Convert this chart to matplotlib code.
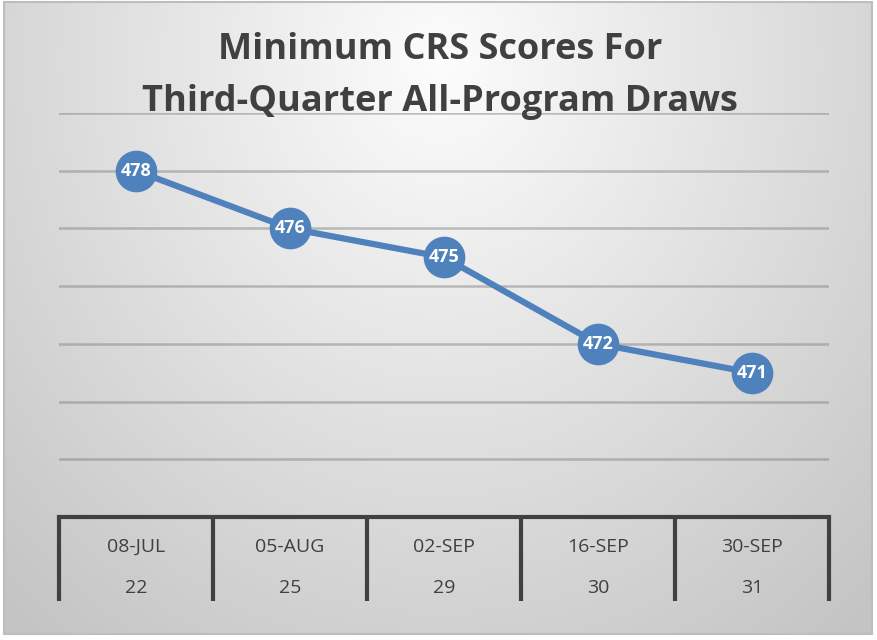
import numpy as np
import matplotlib.pyplot as plt
from matplotlib.patches import Rectangle

dates = ['08-JUL', '05-AUG', '02-SEP', '16-SEP', '30-SEP']
days = ['22', '25', '29', '30', '31']
scores = [478, 476, 475, 472, 471]

plt.rcParams['font.family'] = ['Open Sans', 'DejaVu Sans']

W, H = 877, 640
fig = plt.figure(figsize=(W / 100, H / 100), dpi=100)

# radial gradient background inside a thin grey frame
bg = fig.add_axes([0, 0, 1, 1], zorder=-2)
bg.set_xlim(0, W)
bg.set_ylim(H, 0)
bg.axis('off')
yy, xx = np.mgrid[0:H, 0:W]
r = np.sqrt(((xx - 440) / 560.0) ** 2 + ((yy - 60) / 640.0) ** 2)
shade = np.clip(0.99 - 0.19 * r, 0.77, 1.0)
img = np.dstack([shade, shade, shade])
bg.imshow(img, extent=(4, 872, 634, 2), aspect='auto', interpolation='bilinear')
bg.add_patch(Rectangle((4, 2), 868, 632, fill=False, edgecolor='#bdbdbd', lw=1.5))

ax = fig.add_axes([59 / W, 123 / H, 770 / W, 404 / H])
ax.patch.set_alpha(0)
x = np.arange(len(scores))
ax.plot(x, scores, color='#4f81bd', lw=4.5, marker='o', ms=29,
        markerfacecolor='#4f81bd', markeredgecolor='#4f81bd', zorder=3)
for xi, s in zip(x, scores):
    ax.text(xi, s, str(s), ha='center', va='center', color='white',
            fontsize=13, fontweight='bold', zorder=4)

ax.set_xlim(-0.5, len(scores) - 0.5)
ax.set_ylim(466, 480)
ax.set_yticks(np.arange(468, 481, 2))
ax.yaxis.grid(True, color='#7a7a7a', alpha=0.45, lw=1.8)
ax.set_axisbelow(True)
ax.tick_params(left=False, labelleft=False, bottom=False, labelbottom=False)
for sp in ['top', 'left', 'right']:
    ax.spines[sp].set_visible(False)
ax.spines['bottom'].set_color('#404040')
ax.spines['bottom'].set_linewidth(3)

# two-level category labels with separators
trans = ax.get_xaxis_transform()
ax.vlines(np.arange(-0.5, len(scores)), -84 / 404, 0, transform=trans,
          colors='#404040', lw=3, clip_on=False)
for xi, d, n in zip(x, dates, days):
    ax.text(xi, -30 / 404, d, transform=trans, ha='center', va='center',
            fontsize=14, color='#404040')
    ax.text(xi, -71 / 404, n, transform=trans, ha='center', va='center',
            fontsize=14, color='#404040')

fig.text(440 / W, 1 - 76 / H, 'Minimum CRS Scores For\nThird-Quarter All-Program Draws',
         ha='center', va='center', fontsize=26, fontweight='bold',
         color='#404040', linespacing=1.62)

fig.savefig('out.png', dpi=100)
